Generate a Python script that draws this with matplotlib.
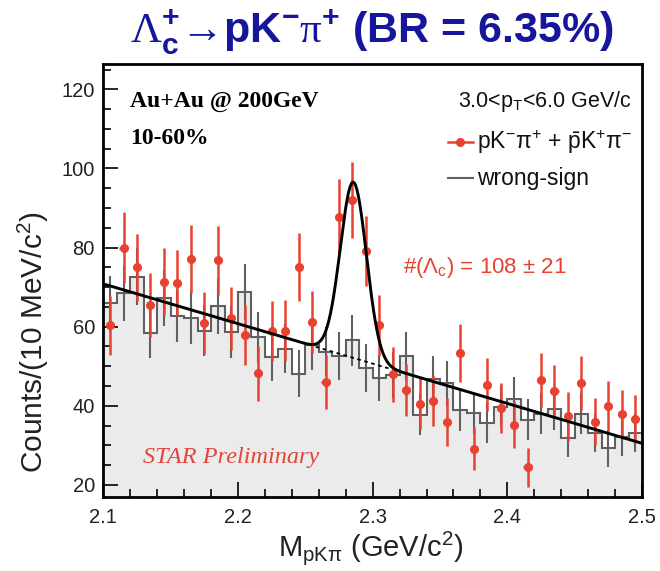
import numpy as np
import matplotlib
matplotlib.use("Agg")
import matplotlib.pyplot as plt

plt.rcParams['font.family'] = ['Liberation Sans', 'DejaVu Sans']
plt.rcParams['mathtext.fontset'] = 'custom'
plt.rcParams['mathtext.rm'] = 'Liberation Sans'
plt.rcParams['mathtext.it'] = 'Liberation Sans:italic'
plt.rcParams['mathtext.bf'] = 'Liberation Sans:bold'
plt.rcParams['mathtext.sf'] = 'Liberation Serif'
plt.rcParams['mathtext.fallback'] = 'stix'

# ---------------- data ----------------
mass_low, mass_high, n_bins = 2.1, 2.5, 40

right_sign = [60.3, 80.0, 75.0, 65.5, 71.4, 71.0, 77.1, 60.9, 76.8, 62.1,
              57.9, 48.2, 58.9, 59.0, 75.0, 61.1, 45.9, 87.8, 92.0, 79.1,
              60.3, 47.9, 44.0, 40.5, 41.3, 35.9, 53.4, 29.1, 45.3, 39.4,
              35.2, 24.4, 46.5, 43.8, 37.3, 45.7, 36.0, 40.0, 37.9, 36.6]
right_sign_err = [7.5, 9.0, 8.5, 8.0, 8.4, 8.4, 8.7, 7.8, 8.7, 7.9,
                  7.6, 6.9, 7.7, 7.7, 8.6, 7.8, 6.8, 9.4, 9.6, 8.9,
                  7.8, 6.9, 6.6, 6.4, 6.4, 6.0, 7.3, 5.4, 6.7, 6.3,
                  5.9, 5.0, 6.8, 6.6, 6.1, 6.8, 6.0, 6.3, 6.2, 6.1]

wrong_sign = [65.9, 68.4, 72.6, 58.5, 67.2, 62.7, 62.3, 59.0, 65.1, 58.6,
              68.8, 57.3, 52.4, 54.4, 48.1, 55.4, 53.7, 52.6, 56.5, 49.5,
              47.0, 47.8, 52.5, 37.7, 46.8, 45.7, 39.0, 38.1, 35.6, 39.8,
              41.7, 36.5, 38.0, 39.2, 31.8, 38.0, 33.1, 29.2, 32.2, 33.1]
wrong_sign_err = [7.0, 7.0, 7.2, 6.5, 7.0, 6.7, 6.7, 6.5, 6.9, 6.5,
                  7.0, 6.4, 6.1, 6.2, 5.9, 6.3, 6.2, 6.1, 6.4, 6.0,
                  5.8, 5.9, 6.1, 5.2, 5.8, 5.7, 5.3, 5.2, 5.0, 5.3,
                  5.5, 5.1, 5.2, 5.3, 4.8, 5.2, 4.9, 4.6, 4.8, 4.9]

# fit: linear background + gaussian
bkg_at_low, bkg_at_high = 70.8, 30.5
peak_mean, peak_sigma, peak_yield = 2.2857, 0.0097, 108

# --------------- figure ---------------
W, H = 660, 571
fig = plt.figure(figsize=(W / 100, H / 100), dpi=100)
ax_l, ax_r, ax_t, ax_b = 103.3, 642.0, 64.0, 496.7
ax = fig.add_axes([ax_l / W, 1 - ax_b / H, (ax_r - ax_l) / W, (ax_b - ax_t) / H])

def fx(px):
    return px / W

def fy(py):
    return 1 - py / H

edges = np.linspace(mass_low, mass_high, n_bins + 1)
centers = 0.5 * (edges[:-1] + edges[1:])
bw = edges[1] - edges[0]
ymin, ymax = 17.0, 126.4

ws = np.array(wrong_sign)
ax.stairs(ws, edges, baseline=ymin, fill=True, color='#ebebeb', zorder=1)
ax.stairs(ws, edges, baseline=None, color='#606060', lw=1.5, zorder=2)
ax.errorbar(centers, ws, yerr=wrong_sign_err, fmt='none', ecolor='#606060',
            elinewidth=1.5, zorder=2)

xx = np.linspace(mass_low, mass_high, 1000)
slope = (bkg_at_high - bkg_at_low) / (mass_high - mass_low)
bkg = bkg_at_low + slope * (xx - mass_low)
amp = peak_yield * bw / (peak_sigma * np.sqrt(2 * np.pi))
total = bkg + amp * np.exp(-0.5 * ((xx - peak_mean) / peak_sigma) ** 2)
ax.plot(xx, total, color='black', lw=2.1, zorder=5)
m = (xx > peak_mean - 0.028) & (xx < peak_mean + 0.027)
ax.plot(xx[m], bkg[m], color='black', lw=1.3, ls=(0, (2, 2)), zorder=5)

red = '#e8412f'
ax.errorbar(centers, right_sign, yerr=right_sign_err, xerr=0.003, fmt='o',
            color=red, ms=5.5, elinewidth=1.8, capsize=0, zorder=4)

ax.set_xlim(mass_low, mass_high)
ax.set_ylim(ymin, ymax)
ax.set_xticks(np.arange(2.1, 2.51, 0.1))
ax.set_xticklabels(['2.1', '2.2', '2.3', '2.4', '2.5'])
ax.set_xticks(np.arange(2.1, 2.5, 0.02), minor=True)
ax.set_yticks([20, 40, 60, 80, 100, 120])
ax.set_yticks(np.arange(20, 126, 5), minor=True)
ax.tick_params(which='both', direction='in', top=False, right=False,
               labelsize=14.5, labelcolor='#222222', width=1.2)
ax.tick_params(axis='y', which='major', length=11, pad=6)
ax.tick_params(axis='y', which='minor', length=6)
ax.tick_params(axis='x', which='major', length=11, pad=8)
ax.tick_params(axis='x', which='minor', length=6)
for s in ax.spines.values():
    s.set_linewidth(2.0)

# labels
fig.text(fx(371), fy(548), r'M$_{\mathrm{pK}\mathrm{\pi}}$ (GeV/c$^{2}$)', fontsize=21,
         ha='center', va='center', color='#222222')
fig.text(fx(33), fy(342), r'Counts/(10 MeV/c$^{2}$)', fontsize=21.5,
         ha='center', va='center', rotation=90, color='#222222')

fig.text(fx(372), fy(32),
         r'$\mathsf{\Lambda}_{\mathbf{c}}^{\mathbf{+}}$→pK$^{\mathbf{-}}'
         r'\mathsf{\pi}^{\mathbf{+}}$ (BR = 6.35%)',
         fontsize=31, fontweight='bold', color='#16169c', ha='center', va='center')

fig.text(fx(130), fy(101), 'Au+Au @ 200GeV', family='Liberation Serif',
         fontweight='bold', fontsize=17, ha='left', va='center')
fig.text(fx(130), fy(139), '10-60%', family='Liberation Serif',
         fontweight='bold', fontsize=17, ha='left', va='center')
fig.text(fx(632), fy(102), r'3.0<p$_{\mathrm{T}}$<6.0 GeV/c', fontsize=15.5,
         ha='right', va='center', color='#111111')

# legend
leg_y1, leg_y2 = 142, 178
fig.lines.append(plt.Line2D([fx(448), fx(473)], [fy(leg_y1)] * 2, color=red,
                            lw=1.8, transform=fig.transFigure))
fig.lines.append(plt.Line2D([fx(460)], [fy(leg_y1)], color=red, marker='o',
                            ms=5.5, transform=fig.transFigure))
fig.text(fx(477), fy(leg_y1),
         r'pK$^{-}\mathrm{\pi}^{+}$ + $\bar{\mathrm{p}}$K$^{+}\mathrm{\pi}^{-}$',
         fontsize=16.5, ha='left', va='center', color='#111111')
fig.lines.append(plt.Line2D([fx(448), fx(473)], [fy(leg_y2)] * 2,
                            color='#606060', lw=1.5, transform=fig.transFigure))
fig.text(fx(477), fy(leg_y2), 'wrong-sign', fontsize=16.5, ha='left',
         va='center', color='#111111')

fig.text(fx(403), fy(267), r'#($\Lambda_{\mathrm{c}}$) = 108 $\pm$ 21',
         fontsize=16, ha='left', va='center', color=red)
fig.text(fx(143), fy(458), 'STAR Preliminary', family='Liberation Serif',
         style='italic', fontsize=17.5, ha='left', va='center', color='#e0463a')

fig.savefig('out.png', dpi=100)
